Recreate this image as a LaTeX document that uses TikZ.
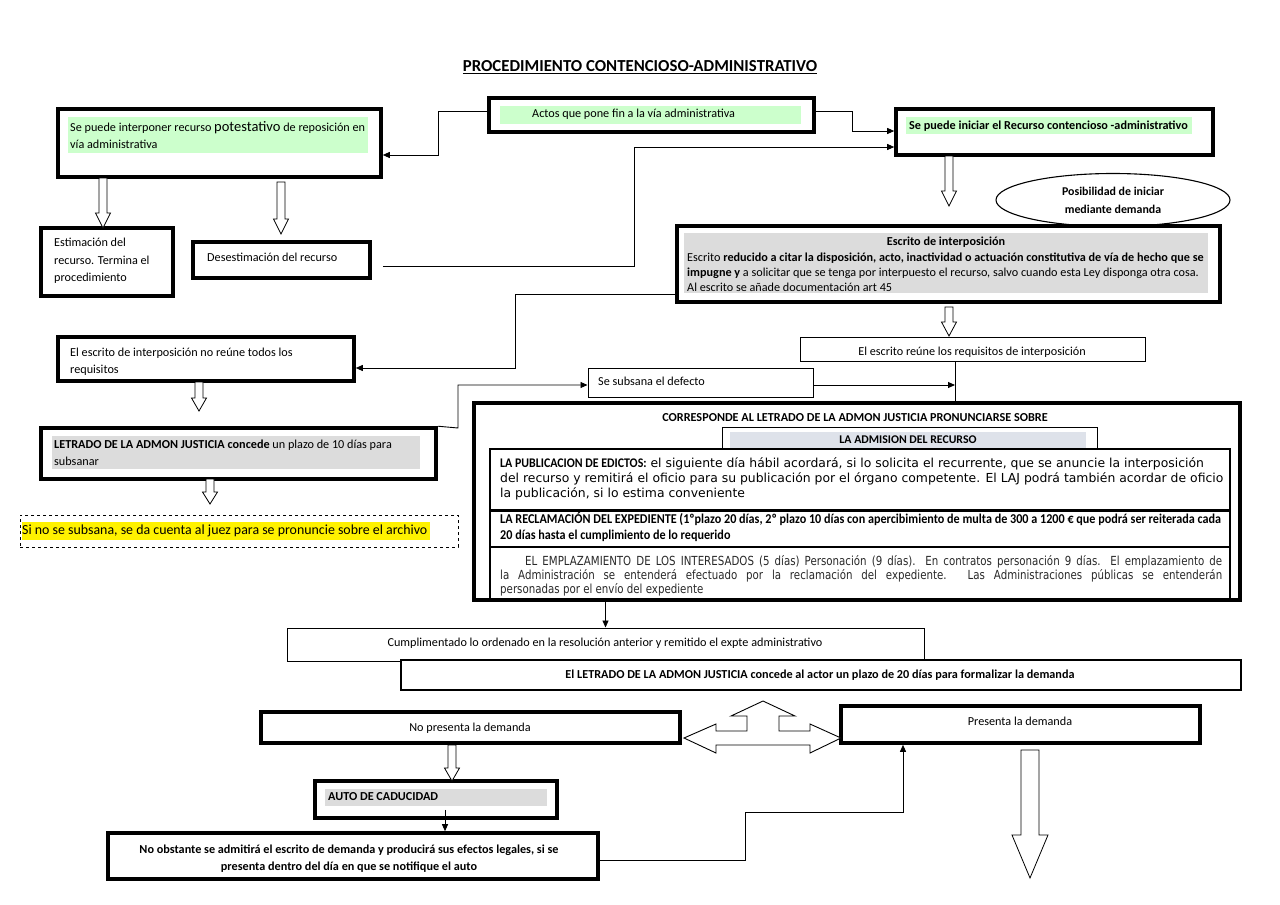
\documentclass[tikz,border=0pt]{standalone}
\usepackage{fontspec}
\setmainfont{Carlito}
\newfontfamily\dvsans{DejaVu Sans}
\newfontfamily\dvnarrow[FakeStretch=0.82]{DejaVu Sans}
\newfontfamily\carlnarrow[FakeStretch=0.9]{Carlito}
\usetikzlibrary{arrows.meta,shapes.geometric,fit}
\definecolor{hlgreen}{RGB}{204,255,204}
\definecolor{hlgray}{RGB}{220,220,220}
\definecolor{hlblue}{RGB}{222,226,234}
\definecolor{dtext}{RGB}{40,40,40}
\newcommand\hollowdown[6]{%
  \draw[line width=0.8pt, fill=white] ({#1-#4},#2) -- ({#1+#4},#2) -- ({#1+#4},{#3-#6}) -- ({#1+#5},{#3-#6}) -- (#1,#3) -- ({#1-#5},{#3-#6}) -- ({#1-#4},{#3-#6}) -- cycle;}
\begin{document}
\begin{tikzpicture}[x=1pt,y=-1pt,
  thk/.style={draw, line width=3.6pt, inner sep=0pt},
  vthk/.style={draw, line width=4.6pt, inner sep=0pt},
  thn/.style={draw, line width=1pt, inner sep=0pt},
  mid/.style={draw, line width=1.5pt, inner sep=0pt},
  conn/.style={line width=0.9pt},
  arr/.style={conn, -{Triangle[length=7pt,width=6pt]}},
  txt/.style={inner sep=0pt, font=\fontsize{12.2}{17}\selectfont, align=left},
  btxt/.style={inner sep=0pt, font=\bfseries\fontsize{12.2}{17}\selectfont, align=left}]
\useasboundingbox (0,0) rectangle (1280,905);

% title
\node[inner sep=0pt, font=\bfseries\fontsize{16.8}{19}\selectfont] (title) at (640,67) {\underline{PROCEDIMIENTO CONTENCIOSO-ADMINISTRATIVO}};

% highlights
\fill[hlgreen] (500,106) rectangle (801,124);
\fill[hlgreen] (68,117) rectangle (368,153);
\fill[hlgreen] (906,117) rectangle (1192,134);
\fill[hlgray] (684,233) rectangle (1208,293);
\fill[hlgray] (52,436) rectangle (420,469);
\fill[hlgray] (325,789) rectangle (547,806);
\fill[yellow] (22,522) rectangle (430,540);

% boxes
\node[thk, fit={(489,98)(814,132)}] (A) {};
\node[thk, fit={(58,109)(381,177)}] (B) {};
\node[thk, fit={(896,109)(1213,155)}] (C) {};
\node[thk, fit={(41,228)(173,296)}] (D) {};
\node[thk, fit={(193,242)(370,278)}] (E) {};
\node[draw, ellipse, line width=1.1pt, minimum width=234pt, minimum height=53pt, inner sep=0pt,
      align=center, font=\bfseries\fontsize{11.9}{18}\selectfont] (F) at (1113,200) {Posibilidad de iniciar\\mediante demanda};
\node[vthk, fit={(677,226)(1220,302)}] (G) {};
\node[thn, fit={(800,337)(1145,361)}] (H) {};
\node[thk, fit={(58,337)(354,381)}] (I) {};
\node[thk, fit={(41,428)(436,479)}] (J) {};
\node[thn, fit={(588,368)(813,397)}] (K) {};
\node[draw, dashed, line width=1pt, inner sep=0pt, fit={(20,515)(458,547)}] (L) {};
\node[thk, fit={(474,403)(1240,600)}] (M) {};
\fill[hlblue] (730,432) rectangle (1086,449);
\node[thn, fit={(722,427)(1097,450)}] (N) {};
\node[mid, fill=white, fit={(490,449)(1230,510)}] (O) {};
\node[mid, fit={(490,511)(1230,547)}] (P) {};
\node[mid, fit={(490,547)(1230,600)}] (Q) {};
\node[thn, fit={(287,628)(924,661)}] (R) {};
\node[mid, fill=white, fit={(401,660)(1241,690)}] (S) {};
\node[thk, fit={(261,712)(680,743)}] (T) {};
\node[thk, fit={(841,706)(1200,743)}] (U) {};
\node[thk, fit={(315,781)(557,818)}] (V) {};
\node[thk, fit={(108,833)(598,879)}] (W) {};

% texts
\node[txt, anchor=west] at (532,114) {Actos que pone fin a la vía administrativa};
\node[txt, anchor=west] at (70,135.5) {Se puede interponer recurso {\fontsize{14.5}{17}\selectfont potestativo} de reposición en\\vía administrativa};
\node[btxt, anchor=west] at (909,126) {Se puede iniciar el Recurso contencioso -administrativo};
\node[txt, anchor=west, font=\fontsize{12.2}{17.5}\selectfont] at (54,261) {Estimación del\\recurso. Termina el\\procedimiento};
\node[txt, anchor=west] at (207,257) {Desestimación del recurso};
\node[btxt, anchor=center, font=\bfseries\fontsize{12.2}{15}\selectfont] at (946,242) {Escrito de interposición};
\node[txt, anchor=west, font=\fontsize{12.2}{15}\selectfont] at (687,272) {Escrito \textbf{reducido a citar la disposición, acto, inactividad o actuación constitutiva de vía de hecho que se}\\\textbf{impugne y} a solicitar que se tenga por interpuesto el recurso, salvo cuando esta Ley disponga otra cosa.\\Al escrito se añade documentación art 45};
\node[txt, anchor=center] at (972,352) {El escrito reúne los requisitos de interposición};
\node[txt, anchor=west] at (70,361.5) {El escrito de interposición no reúne todos los\\requisitos};
\node[txt, anchor=west] at (54,452.5) {\textbf{LETRADO DE LA ADMON JUSTICIA concede} un plazo de 10 días para\\subsanar};
\node[txt, anchor=west] at (598,381) {Se subsana el defecto};
\node[txt, anchor=west, font=\fontsize{13.9}{17}\selectfont] at (22,531) {Si no se subsana, se da cuenta al juez para se pronuncie sobre el archivo};
\node[btxt, anchor=center] at (855,418) {CORRESPONDE AL LETRADO DE LA ADMON JUSTICIA PRONUNCIARSE SOBRE};
\node[btxt, anchor=center, font=\bfseries\fontsize{11.8}{15}\selectfont] at (908,440) {LA ADMISION DEL RECURSO};
\node[inner sep=0pt, anchor=west, align=left, font=\dvsans\fontsize{12.4}{15}\selectfont] at (500,479) {{\carlnarrow\bfseries\fontsize{13.2}{15}\selectfont LA PUBLICACION DE EDICTOS:} el siguiente día hábil acordará, si lo solicita el recurrente, que se anuncie la interposición\\del recurso y remitirá el oficio para su publicación por el órgano competente. El LAJ podrá también acordar de oficio\\la publicación, si lo estima conveniente};
\node[inner sep=0pt, anchor=west, align=left, font=\carlnarrow\bfseries\fontsize{13.5}{16}\selectfont] at (500,527) {LA RECLAMACIÓN DEL EXPEDIENTE (1ºplazo 20 días, 2º plazo 10 días con apercibimiento de multa de 300 a 1200 € que podrá ser reiterada cada\\20 días hasta el cumplimiento de lo requerido};
\node[inner sep=0pt, anchor=west, align=left, text=dtext, font=\dvnarrow\fontsize{12.5}{14}\selectfont] at (500,576) {\makebox[722pt][s]{\hspace*{25pt}EL EMPLAZAMIENTO DE LOS INTERESADOS (5 días) Personación (9 días). En contratos personación 9 días. El emplazamiento de}\\\makebox[722pt][s]{la Administración se entenderá efectuado por la reclamación del expediente. Las Administraciones públicas se entenderán}\\personadas por el envío del expediente};
\node[txt, anchor=center] at (605,643) {Cumplimentado lo ordenado en la resolución anterior y remitido el expte administrativo};
\node[btxt, anchor=center] at (820,675) {El LETRADO DE LA ADMON JUSTICIA concede al actor un plazo de 20 días para formalizar la demanda};
\node[txt, anchor=center] at (470,728) {No presenta la demanda};
\node[txt, anchor=center] at (1020,721) {Presenta la demanda};
\node[btxt, anchor=west] at (328,797) {AUTO DE CADUCIDAD};
\node[btxt, anchor=center, align=center] at (349,858.5) {No obstante se admitirá el escrito de demanda y producirá sus efectos legales, si se\\presenta dentro del día en que se notifique el auto};

% connectors
\draw[arr] ([yshift=4pt]A.west) -- (438,111) -- (438,155) -- ([yshift=-12pt]B.east);
\draw[arr] ([yshift=4pt]A.east) -- (852,111) -- (852,131) -- ([yshift=1pt]C.west);
\draw[arr] ([xshift=11pt,yshift=-6pt]E.east) -- (634,266) -- (634,147) -- ([yshift=-15pt]C.west);
\draw[arr] ([yshift=-30pt]G.west) -- (515,294) -- (515,368) -- ([yshift=-9pt]I.east);
\draw[arr] (J.north east) -- (458,428) -- (458,385) -- ([yshift=-2.5pt]K.west);
\coordinate (hb) at (955,361);
\draw[conn] (hb) -- (hb |- M.north);
\draw[arr] ([yshift=-2.5pt]K.east) -- ([yshift=-2.5pt]hb |- K.east);
\draw[arr] (R.north |- M.south) -- (R.north);
\coordinate (vs) at ([xshift=9pt,yshift=10pt]V.south);
\draw[arr] (vs) -- (vs |- W.north);
\draw[arr] ([yshift=-4pt]W.east) -- (745,860) -- (745,812) -- (903,812) -- ([xshift=-117.5pt]U.south);

% hollow arrows
\hollowdown{103}{178}{228}{4}{7.5}{15}
\hollowdown{281}{182}{234}{4}{7.5}{15}
\hollowdown{949}{156}{206}{4}{7.5}{15}
\hollowdown{949}{307}{336}{4}{7.5}{14}
\hollowdown{199}{382}{411}{4}{7.5}{13}
\hollowdown{210}{479}{504}{4}{7.5}{12}
\hollowdown{452}{745}{781}{4}{7.5}{13}
\hollowdown{1030}{750}{878}{9}{18}{43}

% three-way arrow
\draw[line width=0.9pt, fill=white] (763,701) -- (795,716) -- (779,716) -- (779,731) -- (810,731) -- (810,724) -- (841,738) -- (810,753) -- (810,745) -- (716,745) -- (716,753) -- (684,738) -- (716,724) -- (716,731) -- (747,731) -- (747,716) -- (731,716) -- cycle;
\end{tikzpicture}
\end{document}
